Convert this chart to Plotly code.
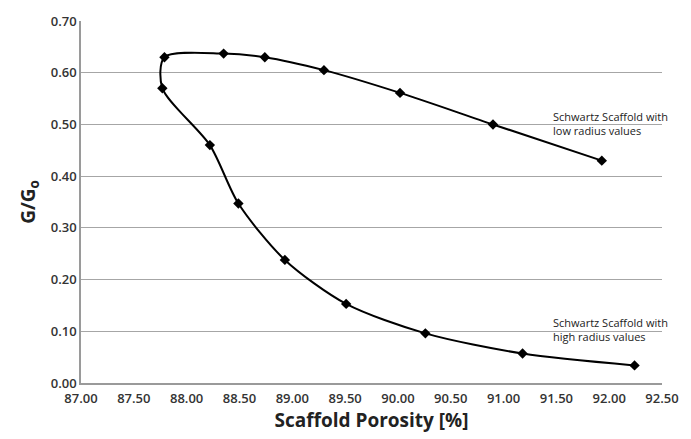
import plotly.graph_objects as go

# High radius series (ordered from high porosity back to the turn)
high_x = [92.24, 91.18, 90.26, 89.51, 88.93, 88.49, 88.22, 87.77]
high_y = [0.034, 0.057, 0.096, 0.153, 0.238, 0.347, 0.460, 0.570]
# Low radius series
low_x = [87.79, 88.35, 88.74, 89.30, 90.02, 90.90, 91.93]
low_y = [0.630, 0.637, 0.630, 0.605, 0.561, 0.500, 0.430]

x_ticks = [87.0, 87.5, 88.0, 88.5, 89.0, 89.5, 90.0, 90.5, 91.0, 91.5, 92.0, 92.5]
y_ticks = [0.0, 0.1, 0.2, 0.3, 0.4, 0.5, 0.6, 0.7]

xs = high_x + low_x
ys = high_y + low_y

fig = go.Figure()
fig.add_trace(go.Scatter(
    x=xs, y=ys, mode="lines+markers",
    line=dict(color="black", width=2, shape="spline", smoothing=0.8),
    marker=dict(symbol="diamond", size=8, color="black"),
    showlegend=False, hoverinfo="skip",
))

tick_font = dict(family="Open Sans", size=13, color="#333333", weight=600)
fig.update_layout(
    width=691, height=439,
    margin=dict(l=81, r=23, t=16, b=55),
    paper_bgcolor="white", plot_bgcolor="white",
    xaxis=dict(
        range=[87.0, 92.5], tickvals=x_ticks,
        ticktext=[f"{v:.2f}" for v in x_ticks],
        showgrid=False, zeroline=False,
        showline=True, linecolor="#9a9a9a", linewidth=1.5,
        ticks="", tickfont=tick_font, ticklabelstandoff=3,
        title=dict(text="Scaffold Porosity [%]", standoff=6,
                   font=dict(family="Open Sans", size=19, color="#222222", weight=700)),
    ),
    yaxis=dict(
        range=[0, 0.70], tickvals=y_ticks,
        ticktext=[f"{v:.2f}" for v in y_ticks],
        showgrid=True, gridcolor="#a6a6a6", gridwidth=1.2,
        zeroline=False,
        showline=True, linecolor="#9a9a9a", linewidth=1.5,
        ticks="", tickfont=tick_font,
        title=dict(text="G/G<sub>o</sub>", standoff=10,
                   font=dict(family="Open Sans", size=19, color="#222222", weight=700)),
    ),
)

ann_font = dict(family="Open Sans", size=11, color="#222222")
fig.add_annotation(x=91.45, y=0.502, xref="x", yref="y", xanchor="left", yanchor="middle",
                   text="Schwartz Scaffold with<br>low radius values", showarrow=False,
                   align="left", font=ann_font)
fig.add_annotation(x=91.45, y=0.103, xref="x", yref="y", xanchor="left", yanchor="middle",
                   text="Schwartz Scaffold with<br>high radius values", showarrow=False,
                   align="left", font=ann_font)

fig.write_html("out.html")
